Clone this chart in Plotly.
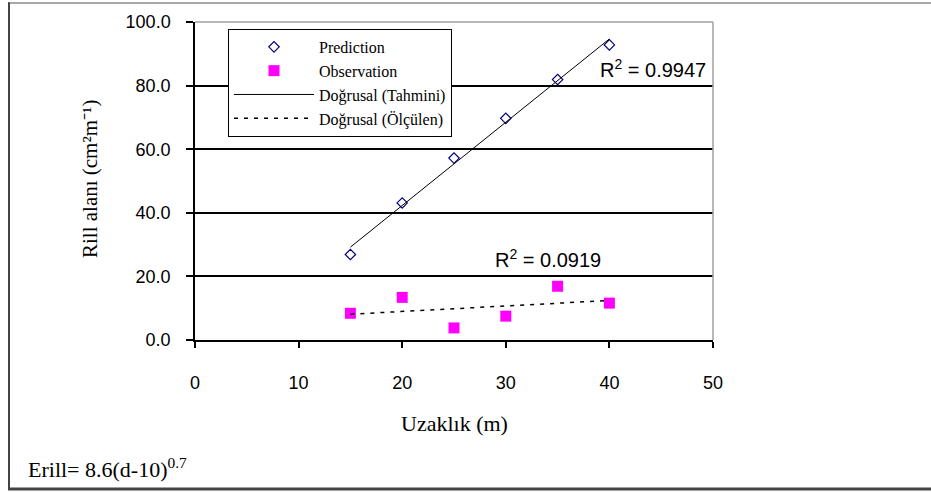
import numpy as np
import plotly.graph_objects as go

distance = [15, 20, 25, 30, 35, 40]
prediction = [26.9, 43.1, 57.2, 69.7, 81.9, 92.8]
observation = [8.4, 13.4, 3.8, 7.5, 16.9, 11.6]
x_ticks = [0, 10, 20, 30, 40, 50]
y_ticks = [0, 20, 40, 60, 80, 100]
r2_labels = ["R<sup>2</sup> = 0.9947", "R<sup>2</sup> = 0.0919"]

xs = np.array(distance, dtype=float)
p_fit = np.polyval(np.polyfit(xs, prediction, 1), xs)
o_fit = np.polyval(np.polyfit(xs, observation, 1), xs)

W, H = 931, 493
L, R, T, B = 195, 218, 20, 153
pw, ph = W - L - R, H - T - B

def px(x):
    return (x - L) / pw

def py(y):
    return (H - B - y) / ph

serif = "Liberation Serif"
sans = "Liberation Sans"

fig = go.Figure()
fig.add_trace(go.Scatter(x=distance, y=prediction, mode="markers", name="Prediction",
                         marker=dict(symbol="diamond-open", size=8, color="#000080",
                                     line=dict(width=1.2, color="#000080"))))
fig.add_trace(go.Scatter(x=distance, y=observation, mode="markers", name="Observation",
                         marker=dict(symbol="square", size=11, color="#ff00ff")))
fig.add_trace(go.Scatter(x=[distance[0], distance[-1]], y=[p_fit[0], p_fit[-1]], mode="lines",
                         name="Doğrusal (Tahmini)", line=dict(color="black", width=1)))
fig.add_trace(go.Scatter(x=[distance[0], distance[-1]], y=[o_fit[0], o_fit[-1]], mode="lines",
                         name="Doğrusal (Ölçülen)",
                         line=dict(color="black", width=1.5, dash="4px,6px")))

shapes = [
    dict(type="line", xref="paper", yref="paper", x0=0, x1=1, y0=1, y1=1,
         line=dict(color="#a0a0a0", width=1.5), layer="above"),
    dict(type="line", xref="paper", yref="paper", x0=1, x1=1, y0=0, y1=1,
         line=dict(color="#a0a0a0", width=1.5), layer="above"),
    dict(type="line", xref="paper", yref="paper", x0=px(8), x1=px(931), y0=py(1), y1=py(1),
         line=dict(color="#a8a8a8", width=2)),
    dict(type="line", xref="paper", yref="paper", x0=px(9), x1=px(9), y0=py(0), y1=py(491),
         line=dict(color="#444444", width=2)),
    dict(type="line", xref="paper", yref="paper", x0=px(8), x1=px(931), y0=py(490), y1=py(490),
         line=dict(color="#444444", width=3)),
]

annotations = [
    dict(x=44.2, y=85.3, xref="x", yref="y", text=r2_labels[0], showarrow=False,
         xanchor="center", yanchor="middle",
         font=dict(family=sans, size=20, color="black")),
    dict(x=34.1, y=25.6, xref="x", yref="y", text=r2_labels[1], showarrow=False,
         xanchor="center", yanchor="middle",
         font=dict(family=sans, size=20, color="black")),
    dict(x=px(90), y=py(178), xref="paper", yref="paper", text="Rill alanı (cm²m⁻¹)",
         textangle=-90, showarrow=False, xanchor="center", yanchor="middle",
         font=dict(family=serif, size=21, color="black")),
    dict(x=px(454), y=py(424), xref="paper", yref="paper", text="Uzaklık (m)",
         showarrow=False, xanchor="center", yanchor="middle",
         font=dict(family=serif, size=22, color="black")),
    dict(x=px(26), y=py(469), xref="paper", yref="paper", xanchor="left", yanchor="middle",
         text="Erill= 8.6(d-10)<sup>0.7</sup>",
         showarrow=False, font=dict(family=serif, size=22, color="black")),
]

fig.update_layout(
    width=W, height=H,
    margin=dict(l=L, r=R, t=T, b=B, pad=0),
    paper_bgcolor="white", plot_bgcolor="white",
    showlegend=True,
    legend=dict(x=px(228), y=py(27), xanchor="left", yanchor="top",
                bgcolor="white", bordercolor="black", borderwidth=1,
                font=dict(family=serif, size=16, color="black"),
                itemwidth=80, tracegroupgap=0),
    xaxis=dict(range=[0, 50], tickvals=x_ticks, ticktext=[str(v) for v in x_ticks],
               showgrid=False, zeroline=False, showline=True, linecolor="black", linewidth=1.5,
               ticks="outside", ticklen=6, tickcolor="black", tickwidth=1.5,
               tickfont=dict(family=sans, size=18, color="black"), ticklabelstandoff=20),
    yaxis=dict(range=[0, 100], tickvals=y_ticks, ticktext=[f"{v:.1f}" for v in y_ticks],
               showgrid=True, gridcolor="black", gridwidth=1.5, zeroline=False,
               showline=True, linecolor="black", linewidth=1.5,
               ticks="outside", ticklen=7, tickcolor="black", tickwidth=1.5,
               tickfont=dict(family=sans, size=18, color="black"), ticklabelstandoff=12),
    shapes=shapes,
    annotations=annotations,
)

fig.write_html("out.html", config={"displayModeBar": False},
               post_script="document.body.style.margin='0';")
